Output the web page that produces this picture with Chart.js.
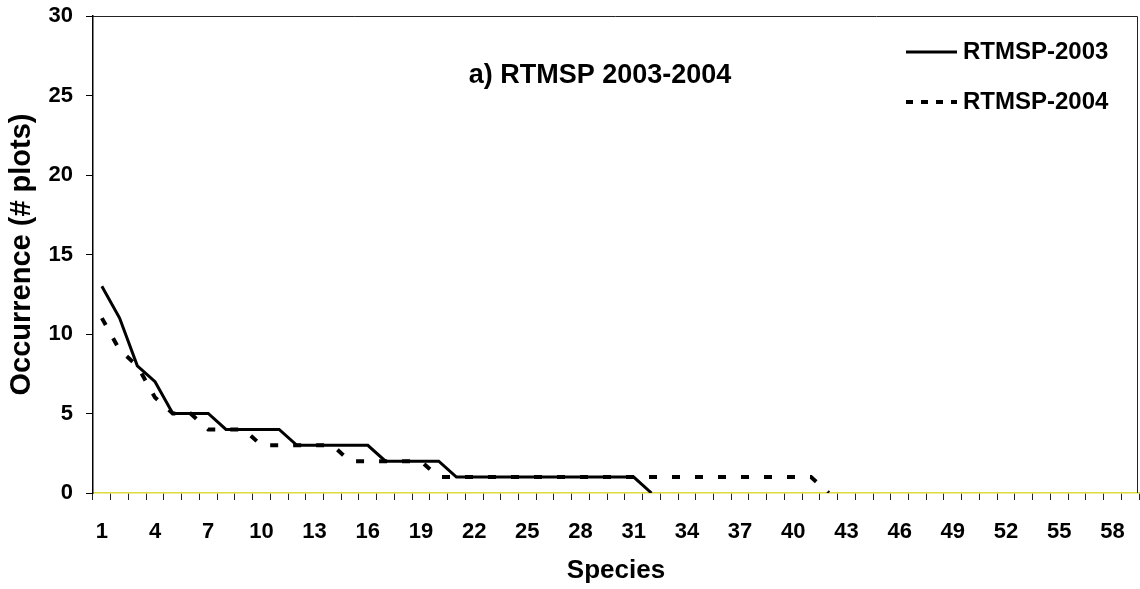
<!DOCTYPE html>
<html>
<head>
<meta charset="utf-8">
<script src="https://cdn.jsdelivr.net/npm/chart.js@4/dist/chart.umd.min.js"></script>
<style>
  html, body { margin: 0; padding: 0; background: #fff; }
  #wrap { width: 1140px; height: 589px; }
</style>
</head>
<body>
<div id="wrap"><canvas id="chart" width="1140" height="589"></canvas></div>
<script>
// species rank (x categories)
const species = [1, 2, 3, 4, 5, 6, 7, 8, 9, 10, 11, 12, 13, 14, 15, 16, 17, 18, 19, 20,
  21, 22, 23, 24, 25, 26, 27, 28, 29, 30, 31, 32, 33, 34, 35, 36, 37, 38, 39, 40,
  41, 42, 43, 44, 45, 46, 47, 48, 49, 50, 51, 52, 53, 54, 55, 56, 57, 58, 59];

// occurrence (# plots) per species
const rtmsp2003 = [13, 11, 8, 7, 5, 5, 5, 4, 4, 4, 4, 3, 3, 3, 3, 3, 2, 2, 2, 2,
  1, 1, 1, 1, 1, 1, 1, 1, 1, 1, 1, 0];
const rtmsp2004 = [11, 9, 8, 6, 5, 5, 4, 4, 4, 3, 3, 3, 3, 3, 2, 2, 2, 2, 2,
  1, 1, 1, 1, 1, 1, 1, 1, 1, 1, 1, 1, 1, 1, 1, 1, 1, 1, 1, 1, 1, 1, 0];

const seriesNames = ["RTMSP-2003", "RTMSP-2004"];
const panelTitle = "a) RTMSP 2003-2004";

const FONT = "'Liberation Sans', Arial, Helvetica, sans-serif";

// box on top and right of the plot
const framePlugin = {
  id: "frame",
  beforeDatasetsDraw(chart) {
    const { ctx, chartArea: a } = chart;
    ctx.save();
    ctx.strokeStyle = "#222";
    ctx.lineWidth = 1;
    ctx.beginPath();
    ctx.moveTo(a.left, a.top + 0.5);
    ctx.lineTo(a.right - 1.5, a.top + 0.5);
    ctx.lineTo(a.right - 1.5, a.bottom);
    ctx.stroke();
    ctx.restore();
  }
};

// panel title + legend inside the plot area
const labelsPlugin = {
  id: "insideLabels",
  afterDraw(chart) {
    const { ctx } = chart;
    ctx.save();
    ctx.fillStyle = "#000";
    ctx.textBaseline = "middle";
    ctx.font = "bold 27px " + FONT;
    ctx.textAlign = "center";
    ctx.fillText(panelTitle, 600, 76);

    ctx.font = "bold 24px " + FONT;
    ctx.textAlign = "left";
    const legendDash = [[], [7, 8]];
    chart.data.datasets.forEach((ds, i) => {
      const y = 52 + i * 50;
      ctx.strokeStyle = ds.borderColor;
      ctx.lineWidth = ds.borderWidth;
      ctx.setLineDash(legendDash[i]);
      ctx.beginPath();
      ctx.moveTo(906, y);
      ctx.lineTo(957, y);
      ctx.stroke();
      ctx.setLineDash([]);
      ctx.fillText(ds.label, 963, y);
    });
    ctx.restore();
  }
};

new Chart(document.getElementById("chart"), {
  type: "line",
  data: {
    labels: species,
    datasets: [
      { label: seriesNames[0], data: rtmsp2003, borderColor: "#000", borderWidth: 3,
        pointRadius: 0, tension: 0, fill: false },
      { label: seriesNames[1], data: rtmsp2004, borderColor: "#000", borderWidth: 4,
        borderDash: [8, 15], borderCapStyle: "butt", pointRadius: 0, tension: 0, fill: false }
    ]
  },
  options: {
    responsive: false,
    devicePixelRatio: 1,
    animation: false,
    layout: { padding: { top: 16, right: 1, left: 0, bottom: 0 } },
    plugins: { legend: { display: false }, tooltip: { enabled: false } },
    scales: {
      x: {
        offset: true,
        afterFit: s => { s.height = 96; s.paddingLeft = 0; s.paddingRight = 0; },
        grid: { drawOnChartArea: false, offset: true, tickLength: 7, tickColor: "#222" },
        border: { color: "#dcdc3c", width: 1.5 },
        ticks: {
          autoSkip: false, maxRotation: 0, padding: 19, color: "#000",
          font: { family: FONT, size: 22, weight: "bold" },
          callback: (v, i) => (i % 3 === 0 ? String(species[i]) : "")
        },
        title: {
          display: true, text: "Species", color: "#000",
          font: { family: FONT, size: 26, weight: "bold" },
          padding: { top: 0, bottom: 3 }
        }
      },
      y: {
        min: 0, max: 30,
        afterFit: s => { s.width = 93; s.paddingTop = 0; s.paddingBottom = 0; },
        grid: { drawOnChartArea: false, tickLength: 7, tickColor: "#000" },
        border: { color: "#000", width: 1.5 },
        ticks: {
          stepSize: 5, padding: 13, color: "#000",
          font: { family: FONT, size: 22, weight: "bold" }
        },
        title: {
          display: true, text: "Occurrence (# plots)", color: "#000",
          font: { family: FONT, size: 29, weight: "bold" },
          padding: { top: 5, bottom: 0 }
        }
      }
    }
  },
  plugins: [framePlugin, labelsPlugin]
});
</script>
</body>
</html>
